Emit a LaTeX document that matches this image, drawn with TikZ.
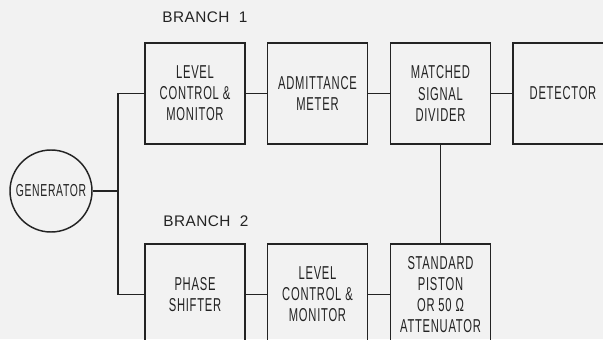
\documentclass[tikz,border=0pt]{standalone}
\usepackage{fontspec}
\setmainfont{Liberation Sans}[FakeStretch=0.6, LetterSpace=4]
\newfontfamily\branchfont{Liberation Sans}[LetterSpace=3]
\usepackage{xcolor}
\usepackage{tikz}
\usetikzlibrary{positioning}
\definecolor{inkdark}{RGB}{35,35,35}
\definecolor{paper}{RGB}{242,242,242}
\tikzset{
  unit/.style={rectangle, draw=inkdark, line width=1.1pt,
    minimum width=75pt, minimum height=75.75pt, align=center,
    font=\fontsize{14}{15.8}\selectfont, text=inkdark},
  source/.style={circle, draw=inkdark, line width=1.1pt,
    minimum size=61.5pt, inner sep=0pt,
    font=\fontsize{13}{15}\selectfont, text=inkdark},
  label/.style={font=\branchfont\fontsize{11.5}{14}\selectfont, text=inkdark},
  line/.style={line width=1.1pt, color=inkdark}
}
\begin{document}
\begin{tikzpicture}[x=0.75pt, y=-0.75pt]
  \fill[paper] (0,0) rectangle (603,339);
  \useasboundingbox (0,0) rectangle (603,339);
  \clip (0,0) rectangle (603,339);

  \node[source] (gen) at (51,191) {GENERATOR};
  \coordinate (fork) at (118,191);

  % branch 1
  \node[label] (lab1) at (205,17) {BRANCH\ \ 1};
  \node[unit] (lvl1) at (195,93.5) {LEVEL\\CONTROL \&\\MONITOR};
  \node[unit] (adm) at (317.5,93.5) {ADMITTANCE\\METER};
  \node[unit] (div) at (440.5,93.5) {MATCHED\\SIGNAL\\DIVIDER};
  \node[unit] (det) at (563,93.5) {DETECTOR};

  % branch 2
  \node[label] (lab2) at (206,221) {BRANCH\ \ 2};
  \node[unit] (phs) at (195,294.5) {PHASE\\SHIFTER};
  \node[unit] (lvl2) at (317.5,294.5) {LEVEL\\CONTROL \&\\MONITOR};
  \node[unit] (std) at (440.5,294.5) {STANDARD\\PISTON\\OR 50 Ω\\ATTENUATOR};

  \draw[line] (gen) -- (fork);
  \draw[line] (lvl1.west) -| (fork) |- (phs.west);
  \draw[line] (lvl1) -- (adm);
  \draw[line] (adm) -- (div);
  \draw[line] (div) -- (det);
  \draw[line] (phs) -- (lvl2);
  \draw[line] (lvl2) -- (std);
  \draw[line] (div) -- (std);
\end{tikzpicture}
\end{document}
